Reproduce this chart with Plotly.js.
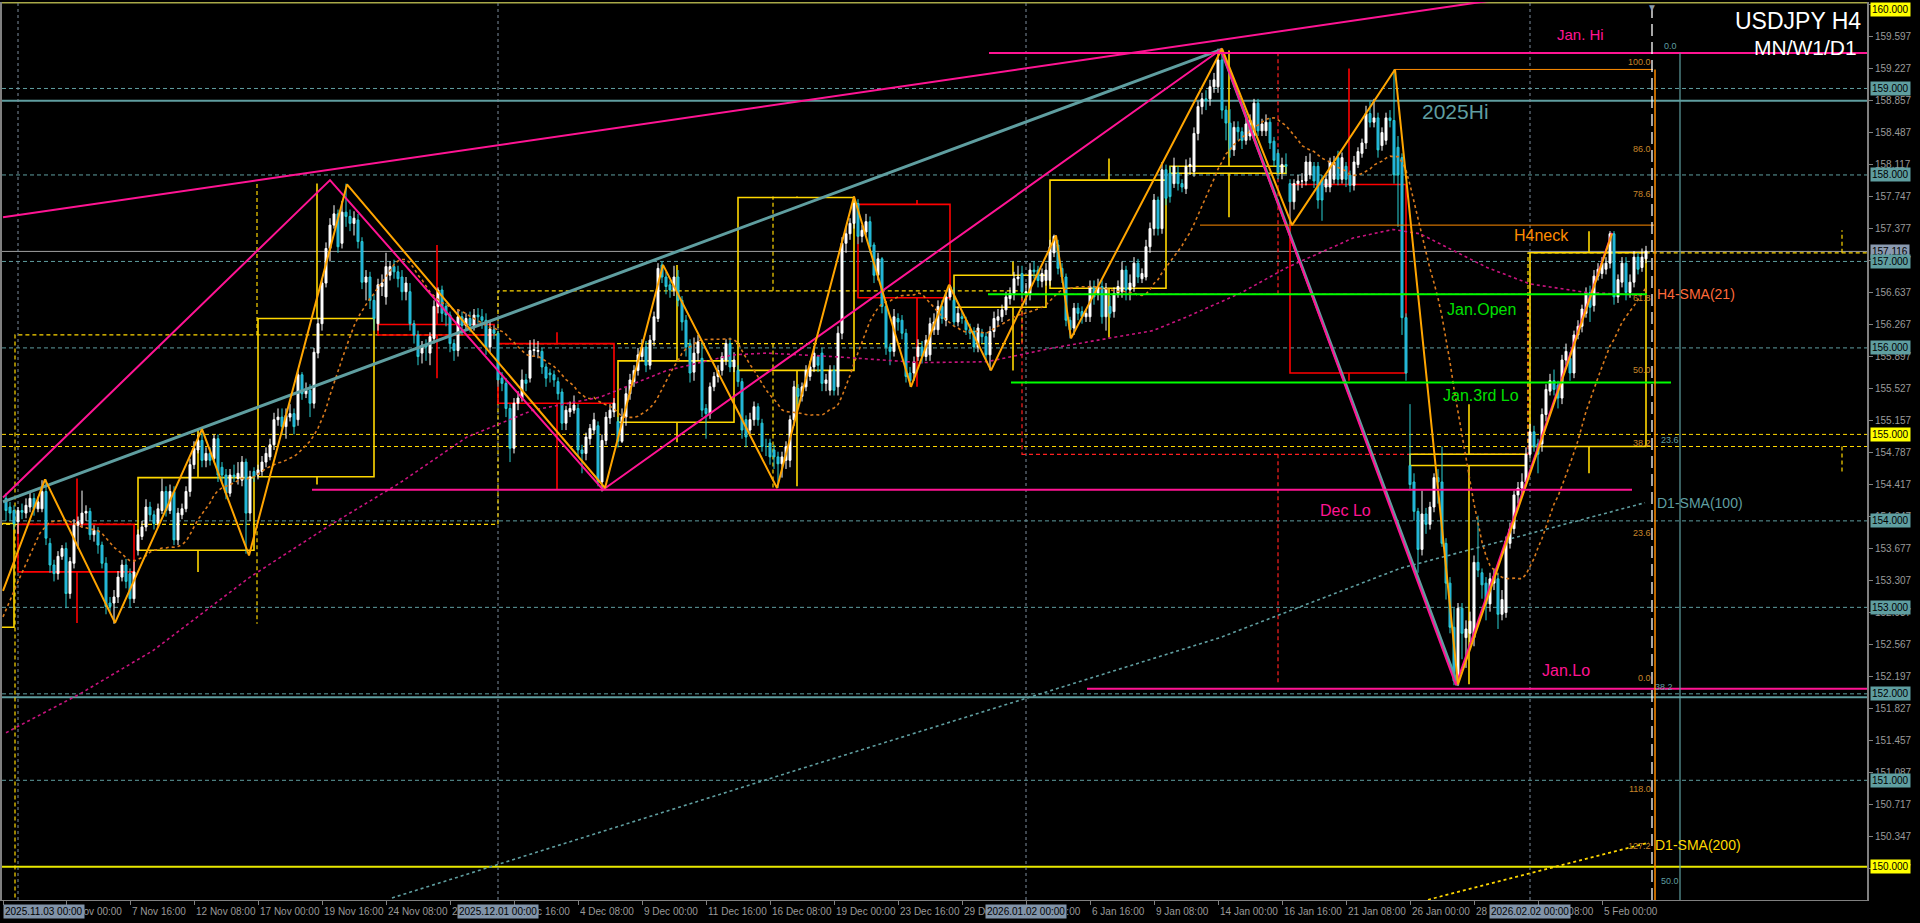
<!DOCTYPE html>
<html><head><meta charset="utf-8">
<script src="https://cdn.plot.ly/plotly-3.0.1.min.js"></script>
<style>html,body{margin:0;padding:0;background:#000;}#chart{width:1920px;height:923px;}</style>
</head><body><div id="chart"></div>
<script>
// ---------- H4 candles (bar index 0 = 2025.11.03 00:00) ----------
const firstBar = -3;
const open = [
154.26,154.16,154.12,153.99,154.12,154.09,154.16,154.26,154.14,154.14,
154.34,153.74,153.49,153.39,153.59,153.68,153.16,153.51,153.95,153.97,
154.09,154.11,153.84,153.89,153.72,153.51,153.05,153.05,153.12,153.35,
153.49,153.39,153.10,153.66,153.82,153.93,154.16,154.07,153.97,154.12,
154.34,154.12,154.34,153.78,154.07,154.14,154.34,154.65,154.82,154.93,
154.70,154.78,154.72,154.95,154.62,154.53,154.32,154.53,154.49,154.47,
154.68,154.09,154.57,154.53,154.57,154.68,154.74,154.88,155.17,155.20,
155.09,155.20,155.24,155.17,155.69,155.47,155.51,155.36,155.94,156.28,
156.75,157.15,157.42,157.55,157.21,157.57,157.52,157.44,157.48,157.23,
156.76,156.82,156.55,156.28,156.71,156.59,156.84,156.94,156.88,156.82,
156.65,156.65,156.28,156.15,155.94,156.03,155.94,156.11,156.48,156.67,
156.48,156.38,156.05,155.97,156.36,156.26,156.34,156.26,156.38,156.36,
156.32,156.01,156.21,156.17,155.65,155.59,155.30,154.84,155.36,155.42,
155.63,155.65,155.97,155.96,155.96,155.78,155.71,155.69,155.61,155.49,
155.13,155.26,155.28,155.30,154.82,154.78,154.95,155.05,155.10,154.45,
154.93,155.19,155.26,155.15,154.92,155.20,155.47,155.61,155.74,155.90,
156.01,155.80,156.09,156.34,156.96,156.82,156.73,156.67,156.82,156.55,
156.32,156.05,155.72,155.94,155.88,155.30,155.24,155.55,155.67,155.74,
155.86,156.05,155.78,155.74,155.61,155.17,155.05,155.17,155.32,155.13,
154.86,154.90,154.82,154.74,154.66,154.70,154.70,155.17,155.53,155.44,
155.55,155.67,155.78,155.90,155.94,155.59,155.51,155.74,155.55,156.17,
157.21,157.32,157.44,157.67,157.29,157.34,157.46,157.19,156.84,157.03,
156.48,156.01,155.96,156.34,156.32,156.17,155.71,155.71,155.90,156.01,
155.90,155.92,156.21,156.21,156.48,156.32,156.59,156.55,156.30,156.36,
156.32,156.21,156.19,156.01,156.17,156.13,155.92,156.19,156.32,156.36,
156.44,156.57,156.63,156.80,156.86,156.63,156.63,156.90,156.90,156.77,
156.78,156.78,157.10,157.19,156.92,156.82,156.32,156.23,156.46,156.42,
156.36,156.36,156.71,156.63,156.71,156.36,156.48,156.42,156.63,156.65,
156.90,156.67,156.71,156.98,156.80,156.82,157.17,157.38,157.71,157.38,
158.06,158.02,157.90,158.02,157.90,157.84,158.10,158.04,158.48,158.79,
158.88,158.88,159.02,159.02,159.33,158.75,158.60,158.29,158.55,158.50,
158.40,158.45,158.45,158.83,158.51,158.51,158.61,158.39,158.25,158.03,
158.12,157.90,157.69,157.90,157.93,157.93,158.00,158.10,158.10,157.95,
157.86,157.86,157.95,158.20,157.95,158.10,158.00,157.88,158.12,158.25,
158.37,158.71,158.61,158.66,158.34,158.40,158.66,158.63,158.32,158.20,
156.35,154.64,154.45,154.11,153.67,154.08,153.96,154.16,154.50,154.45,
153.74,153.28,152.77,152.15,152.99,152.65,152.70,152.65,153.52,153.40,
153.28,153.04,153.28,153.33,152.92,152.94,153.74,153.91,154.30,154.38,
154.45,154.77,155.03,154.89,154.89,155.23,155.50,155.62,155.57,155.42,
155.86,155.88,155.71,156.15,156.25,156.40,156.64,156.49,156.83,156.86,
156.91,156.98,157.32,156.59,156.76,156.98,156.64,156.76,157.05,156.93,157.03];
const high = [
154.32,154.22,154.18,154.16,154.20,154.26,154.33,154.32,154.28,154.47,
154.48,153.80,153.55,153.65,153.72,153.75,153.58,154.02,154.05,154.35,
154.18,154.15,153.95,153.93,153.76,153.58,153.12,153.20,153.42,153.55,
153.56,153.45,153.55,153.90,154.00,154.25,154.22,154.12,154.20,154.49,
154.40,154.42,154.40,154.15,154.20,154.40,154.72,154.92,155.00,155.06,
154.85,154.85,155.00,155.00,154.68,154.60,154.60,154.65,154.68,154.75,
154.72,154.58,154.62,154.65,154.75,154.85,154.95,155.25,155.30,155.30,
155.30,155.35,155.30,155.75,155.72,155.60,155.58,156.00,156.35,156.80,
157.22,157.50,157.65,157.60,157.70,157.90,157.60,157.58,157.55,157.28,
156.90,156.88,156.62,156.80,156.85,157.10,157.00,157.02,156.95,156.90,
156.82,156.75,156.32,156.20,156.08,156.10,156.18,156.55,156.70,156.72,
156.52,156.42,156.10,156.45,156.42,156.40,156.42,156.45,156.46,156.45,
156.40,156.30,156.26,156.20,155.72,155.65,155.35,155.42,155.50,155.75,
155.70,156.09,156.10,156.08,156.00,155.82,155.76,155.74,155.66,155.53,
155.33,155.38,155.45,155.35,154.88,155.02,155.12,155.25,155.15,155.00,
155.26,155.35,155.42,155.20,155.30,155.55,155.70,155.80,156.00,156.10,
156.08,156.15,156.42,156.98,157.00,156.88,156.78,156.95,156.90,156.60,
156.38,156.10,156.12,156.15,156.07,155.35,155.60,155.72,155.80,155.95,
156.10,156.12,155.95,155.80,155.65,155.22,155.25,155.38,155.36,155.18,
154.95,154.95,154.88,154.80,154.80,154.92,155.22,155.62,155.58,155.60,
155.80,155.85,156.02,155.92,156.00,155.70,155.80,155.80,156.25,157.28,
157.40,157.50,157.75,157.72,157.42,157.55,157.52,157.22,157.10,157.05,
156.52,156.05,156.45,156.40,156.38,156.22,155.78,155.90,156.10,156.08,
156.15,156.35,156.40,156.55,156.55,156.65,156.73,156.70,156.48,156.42,
156.36,156.28,156.24,156.28,156.22,156.18,156.25,156.42,156.45,156.50,
156.65,156.70,156.88,156.95,156.95,156.75,156.98,157.00,156.95,156.92,
156.98,157.25,157.31,157.25,156.98,156.86,156.36,156.52,156.52,156.48,
156.45,156.78,156.78,156.80,156.78,156.75,156.60,156.70,156.78,157.00,
156.95,156.85,157.05,157.03,156.92,157.25,157.45,157.78,157.75,158.15,
158.12,158.10,158.20,158.10,157.95,158.18,158.20,158.55,158.85,158.95,
158.98,159.10,159.18,159.46,159.40,158.80,158.76,158.62,158.62,158.55,
158.65,158.70,158.88,158.88,158.65,158.70,158.66,158.44,158.30,158.20,
158.25,157.95,157.95,158.00,158.02,158.22,158.25,158.15,158.15,158.00,
158.00,158.20,158.22,158.28,158.26,158.15,158.05,158.22,158.32,158.42,
158.80,158.85,158.88,158.72,158.55,158.72,158.75,159.22,158.45,158.25,
156.40,155.35,154.55,154.15,154.35,154.15,154.22,154.55,154.60,154.86,
153.80,153.35,152.99,153.05,153.05,152.85,152.95,153.60,154.06,153.45,
153.35,153.40,153.45,153.40,153.20,153.82,153.98,154.35,154.45,154.55,
154.85,155.12,155.10,154.95,155.30,155.58,155.70,155.75,155.62,155.92,
156.05,155.95,156.20,156.32,156.50,156.70,156.72,156.90,156.98,157.05,
157.05,157.35,157.35,156.85,157.05,157.05,156.85,157.12,157.10,157.15,157.18];
const low = [
154.00,154.00,153.90,153.85,154.02,154.03,154.10,154.06,154.10,154.10,
153.72,153.40,153.30,153.32,153.55,152.99,153.10,153.45,153.68,153.92,
154.00,153.78,153.76,153.62,153.45,152.92,152.95,152.81,153.05,153.30,
153.22,153.00,153.05,153.60,153.78,153.88,154.00,153.90,153.92,154.08,
154.05,154.08,153.72,153.72,154.02,154.10,154.28,154.60,154.78,154.62,
154.62,154.64,154.68,154.45,154.45,154.25,154.28,154.45,154.42,154.40,
153.62,154.00,154.45,154.48,154.52,154.62,154.70,154.82,155.10,155.00,
154.95,155.15,155.00,155.10,155.40,155.42,155.20,155.30,155.88,156.20,
156.70,157.00,157.38,157.10,157.15,157.40,157.35,157.30,157.15,156.68,
156.55,156.45,156.20,156.20,156.60,156.50,156.78,156.80,156.70,156.55,
156.55,156.20,156.05,155.80,155.82,155.85,155.80,156.05,156.40,156.30,
156.25,155.95,155.85,155.90,156.15,156.20,156.18,156.20,156.28,156.22,
155.92,155.95,156.10,155.55,155.50,155.20,154.68,154.78,155.28,155.38,
155.50,155.60,155.90,155.88,155.70,155.55,155.60,155.55,155.40,155.05,
155.05,155.20,155.24,154.75,154.55,154.70,154.88,155.00,154.40,154.34,
154.88,155.12,155.20,154.85,154.90,155.10,155.40,155.55,155.68,155.85,
155.72,155.75,156.02,156.30,156.75,156.62,156.58,156.60,156.48,156.20,
155.90,155.60,155.62,155.85,155.20,154.95,155.18,155.50,155.60,155.68,
155.80,155.72,155.72,155.55,154.95,154.85,154.98,155.10,155.10,154.80,
154.75,154.65,154.60,154.38,154.50,154.60,154.62,155.10,155.35,155.38,
155.50,155.62,155.72,155.72,155.50,155.50,155.45,155.45,155.45,156.10,
157.10,157.25,157.38,157.20,157.22,157.30,157.10,156.75,156.78,156.40,
155.92,155.80,155.90,156.20,156.10,155.60,155.55,155.62,155.85,155.82,
155.85,155.85,156.15,156.15,156.28,156.25,156.55,156.25,156.25,156.28,
156.15,156.10,155.95,155.95,156.05,155.85,155.74,156.12,156.25,156.30,
156.38,156.50,156.55,156.72,156.58,156.50,156.55,156.80,156.70,156.70,
156.72,156.72,157.05,156.85,156.75,156.25,156.11,156.15,156.32,156.28,
156.30,156.30,156.50,156.55,156.28,156.20,156.35,156.35,156.58,156.58,
156.55,156.55,156.65,156.75,156.75,156.78,157.10,157.30,157.30,157.32,
157.65,157.68,157.85,157.82,157.80,157.78,158.00,157.98,158.40,158.70,
158.75,158.80,158.95,158.95,158.65,158.40,158.20,158.22,158.40,158.30,
158.35,158.40,158.40,158.45,158.45,158.45,158.30,158.10,157.95,157.95,
158.02,157.43,157.60,157.82,157.85,157.88,157.95,157.85,157.61,157.47,
157.80,157.80,157.90,157.88,157.90,157.86,157.80,157.82,158.08,158.20,
158.30,158.55,158.55,158.20,158.28,158.35,158.55,157.90,157.40,156.15,
155.62,154.35,154.00,153.40,153.60,153.85,153.90,154.10,154.20,153.70,
153.09,152.70,152.10,152.09,152.40,152.30,152.60,152.55,153.35,153.10,
152.85,152.95,153.20,152.75,152.85,152.88,153.68,153.85,154.20,154.30,
154.40,154.72,154.80,154.55,154.80,155.15,155.45,155.45,155.30,155.35,
155.80,155.62,155.65,156.10,156.18,156.35,156.30,156.42,156.78,156.80,
156.85,156.92,156.50,156.52,156.70,156.55,156.58,156.70,156.85,156.88,156.98];
const close = [
154.12,154.09,153.97,154.12,154.10,154.18,154.26,154.14,154.22,154.34,
153.80,153.49,153.39,153.59,153.68,153.16,153.53,153.95,153.99,154.09,
154.11,153.84,153.89,153.72,153.51,153.01,153.01,153.12,153.35,153.49,
153.30,153.10,153.41,153.84,153.93,154.16,154.07,153.97,154.14,154.34,
154.12,154.34,153.78,154.09,154.14,154.34,154.65,154.84,154.93,154.70,
154.78,154.70,154.95,154.53,154.53,154.32,154.53,154.51,154.55,154.68,
154.09,154.51,154.51,154.59,154.68,154.78,154.88,155.17,155.20,155.09,
155.22,155.24,155.09,155.69,155.47,155.51,155.36,155.95,156.28,156.75,
157.15,157.42,157.55,157.17,157.57,157.52,157.44,157.50,157.23,156.76,
156.82,156.55,156.34,156.73,156.75,156.94,156.94,156.88,156.80,156.65,
156.75,156.28,156.15,155.90,156.03,156.01,156.13,156.48,156.67,156.40,
156.38,156.05,155.97,156.36,156.26,156.34,156.26,156.38,156.36,156.32,
156.01,156.22,156.17,155.63,155.59,155.30,154.84,155.36,155.42,155.63,
155.59,155.97,155.98,155.97,155.78,155.65,155.69,155.63,155.47,155.13,
155.28,155.30,155.34,154.82,154.78,154.97,155.07,155.17,154.45,154.93,
155.20,155.28,155.36,154.92,155.20,155.47,155.63,155.74,155.92,156.01,
155.80,156.09,156.36,156.92,156.82,156.71,156.67,156.82,156.55,156.30,
156.01,155.71,155.94,156.07,155.28,155.24,155.55,155.67,155.74,155.90,
156.05,155.78,155.86,155.61,155.05,154.97,155.17,155.32,155.17,154.86,
154.86,154.74,154.74,154.66,154.74,154.86,155.17,155.55,155.44,155.55,
155.74,155.78,155.94,155.80,155.59,155.63,155.74,155.51,156.17,157.21,
157.32,157.44,157.67,157.29,157.36,157.46,157.17,156.84,157.03,156.48,
156.01,155.96,156.36,156.30,156.17,155.67,155.62,155.84,156.01,155.90,
156.09,156.28,156.30,156.48,156.34,156.59,156.71,156.30,156.40,156.34,
156.21,156.17,156.01,156.23,156.13,155.92,156.19,156.34,156.36,156.44,
156.59,156.63,156.80,156.82,156.65,156.65,156.90,156.88,156.78,156.86,
156.90,157.17,157.29,156.92,156.82,156.32,156.21,156.46,156.40,156.36,
156.40,156.71,156.59,156.71,156.36,156.69,156.40,156.63,156.71,156.90,
156.67,156.75,156.98,156.82,156.86,157.17,157.38,157.71,157.38,158.06,
157.73,157.75,158.10,157.90,157.86,158.10,158.12,158.48,158.79,158.88,
158.86,159.02,159.10,159.33,158.75,158.60,158.29,158.55,158.50,158.40,
158.59,158.63,158.83,158.51,158.59,158.61,158.37,158.17,158.03,158.12,
158.10,157.69,157.90,157.93,157.93,158.15,158.15,157.93,157.71,157.71,
157.95,158.15,158.15,157.95,158.20,157.95,157.88,158.15,158.27,158.37,
158.71,158.61,158.66,158.29,158.49,158.66,158.63,158.00,158.00,156.35,
155.71,154.42,154.11,153.67,154.08,153.96,154.16,154.50,154.45,153.74,
153.28,152.77,152.15,152.99,152.70,152.75,152.84,153.52,153.43,153.26,
153.04,153.33,153.36,152.92,153.09,153.77,153.91,154.30,154.38,154.45,
154.77,155.03,154.86,154.77,155.23,155.52,155.62,155.52,155.42,155.86,
155.96,155.71,156.15,156.25,156.45,156.64,156.47,156.83,156.91,156.98,
156.98,157.32,156.59,156.79,156.98,156.64,156.76,157.05,156.91,157.05,157.12];

// ---------- axis labels ----------
const priceTicks = [159.967,159.597,159.227,158.857,158.487,158.117,157.747,157.377,157.007,156.637,156.267,155.897,155.527,155.157,154.787,154.417,154.047,153.677,153.307,152.937,152.567,152.197,151.827,151.457,151.087,150.717,150.347,149.977];
const timeTickBars = [12,28,44,60,76,92,108,124,140,156,172,188,204,220,236,252,268,284,300,316,332,348,364,380,396];
const timeTickText = ['5 Nov 00:00','7 Nov 16:00','12 Nov 08:00','17 Nov 00:00','19 Nov 16:00','24 Nov 08:00','27 Nov 00:00','1 Dec 16:00','4 Dec 08:00','9 Dec 00:00','11 Dec 16:00','16 Dec 08:00','19 Dec 00:00','23 Dec 16:00','29 Dec 08:00','2 Jan 00:00','6 Jan 16:00','9 Jan 08:00','14 Jan 00:00','16 Jan 16:00','21 Jan 08:00','26 Jan 00:00','28 Jan 16:00','2 Feb 08:00','5 Feb 00:00'];
const monthBars = [0,120,252,378];
const monthText = ['2025.11.03 00:00','2025.12.01 00:00','2026.01.02 00:00','2026.02.02 00:00'];
const levelPrices = [160,159,158,157.116,157,156,155,154,153,152,151,150];
const levelKinds  = ['y','t','t','g','t','t','y','t','t','t','t','y'];

// ---------- drawn objects (bar index, price) ----------
const pinkZigBars = [-3.75,78,146.25,300.75,359.5,398.5];
const pinkZigVals = [154.27,157.94,154.36,159.45,152.10,157.33];
const orangeZigBars = [-3.75,6.75,24.25,46,57.75,82.25,146.75,161.25,189.75,209,223.25,232.75,243.25,259.5,263.25,301,318.5,344.25,360,398.5];
const orangeZigVals = [153.19,154.48,152.82,155.06,153.60,157.89,154.38,156.96,154.38,157.75,155.55,156.73,155.74,157.30,156.11,159.46,157.42,159.22,152.11,157.32];
const tealTrendBars = [-3.75,300.75,359.5];
const tealTrendVals = [154.22,159.45,152.10];
const pinkLongBars = [-3.75,368.75];
const pinkLongVals = [157.51,160.02];
// moving averages
const smaHeadBars = [-3.75,0.5,5.5,8,12.25,16];
const smaHeadVals = [152.89,153.35,153.86,153.99,154.01,153.93];
const pinkMaBars = [-3,15.5,33.75,58,78,95.5,112.25,128.75,145.5,162.25,178.75,187.25,203.75,225.5,242.25,258.75,283.75,292.25,305.5,317.25,333.75,343.75,350.5,367.25,378,392.25,406.25];
const pinkMaVals = [151.55,152.00,152.50,153.35,153.95,154.44,154.97,155.28,155.43,155.74,155.92,155.94,155.90,155.83,155.84,156.00,156.20,156.36,156.63,156.93,157.27,157.37,157.32,156.93,156.74,156.64,156.61];
const d1Sma100Bars = [93.5,195.5,300.5,345.5,406.75];
const d1Sma100Vals = [149.64,151.13,152.65,153.45,154.21];
const d1Sma200Bars = [352.5,407.75];
const d1Sma200Vals = [149.62,150.28];

// weekly candles: start, end, wick bar, open, close, high, low
const wkStart = [-25,0,30,60,90,120,150,180,210,234,258,288,318,348,378];
const wkEnd   = [-1,29,59,89,119,149,179,209,233,257,287,317,347,377,407];
const wkWick  = [-13,14.75,45,74.75,104.75,134.75,164.75,194.75,224.75,248.75,272.75,302.75,332.75,362.75,392.75];
const wkOpen  = [152.77,153.96,153.66,154.51,156.27,156.05,155.14,155.74,157.66,156.47,156.69,158.02,157.89,154.64,154.86];
const wkClose = [153.97,153.41,154.50,156.34,156.15,155.36,155.85,157.74,156.58,156.84,157.94,158.10,155.71,154.77,157.10];
const wkHigh  = [153.97,154.49,155.06,157.90,157.19,156.18,156.96,157.75,157.71,157.00,158.19,159.44,159.23,155.35,157.35];
const wkLow   = [152.77,152.82,153.41,154.42,155.65,154.36,154.91,154.40,155.55,155.74,156.12,157.51,155.62,152.11,154.55];
// monthly candles (dashed)
const mnStart = [-40,-0.75,120,251,377.5];
const mnEnd   = [-0.75,120,251,377.5,470];
const mnWick  = [-20,59.75,188.75,315,456];
const mnOpen  = [147.90,153.96,156.05,156.62,154.86];
const mnClose = [153.96,156.15,156.66,154.77,157.10];
const mnHigh  = [153.96,157.90,157.75,159.45,157.36];
const mnLow   = [147.90,152.81,154.36,152.10,154.55];

const fibText  = ['100.0','86.0','78.6','61.8','50.0','38.2','23.6','0.0','118.0','127.2'];
const fibPrice = [159.22,158.22,157.70,156.50,155.66,154.82,153.78,152.10,150.82,150.16];

// ---------- build ----------
const N = close.length;
const xs = [];
for (let k = 0; k < N; k++) xs.push(firstBar + k);

// H4 SMA(21) from the closes, head
const smaX = smaHeadBars.slice(), smaY = smaHeadVals.slice();
for (let k = 20; k < N; k++) {
  let s = 0; for (let j = k - 20; j <= k; j++) s += close[j];
  smaX.push(xs[k]); smaY.push(s / 21);
}

const FONT = 'Liberation Sans, Arial, sans-serif';
const PINK = '#ff1493', TEAL = '#5f9ea0', ORANGE = '#ffa500', GOLD = '#ffd700', GREEN = '#00ff00';

const shapes = [];
function seg(x0,y0,x1,y1,color,width,dash,layer){shapes.push({type:'line',xref:'x',yref:'y',x0:x0,y0:y0,x1:x1,y1:y1,line:{color:color,width:width,dash:dash||'solid'},layer:layer||'above'});}
function hfull(y,color,width,dash){shapes.push({type:'line',xref:'paper',yref:'y',x0:0,x1:1,y0:y,y1:y,line:{color:color,width:width,dash:dash||'solid'},layer:'below'});}
function vfull(x,color,width,dash,layer){shapes.push({type:'line',xref:'x',yref:'paper',x0:x,x1:x,y0:0,y1:1,line:{color:color,width:width,dash:dash||'solid'},layer:layer||'below'});}
function box(x0,x1,o,c,color,width,dash){shapes.push({type:'rect',xref:'x',yref:'y',x0:x0,x1:x1,y0:Math.min(o,c),y1:Math.max(o,c),line:{color:color,width:width,dash:dash||'solid'},fillcolor:'rgba(0,0,0,0)',layer:'below'});}

// levels
[159,158,157,156,154,153,152,151].forEach(p => hfull(p, TEAL, 1, '4px,3px'));
hfull(155, GOLD, 1, '4px,3px');
hfull(150, '#e8e800', 2);
hfull(160, '#a8a848', 3);
hfull(158.857, TEAL, 2);
hfull(151.96, TEAL, 2);
hfull(157.116, '#a0a0a0', 1);
hfull(154.86, GOLD, 1, '4px,3px');
// month separators
monthBars.forEach(b => vfull(b, '#7c8c9c', 1, '3px,3px'));

// monthly dashed candles
for (let k = 0; k < mnStart.length; k++) {
  const col = mnClose[k] >= mnOpen[k] ? GOLD : '#ff2020';
  box(mnStart[k], mnEnd[k], mnOpen[k], mnClose[k], col, 1.2, '4px,3px');
  const top = Math.max(mnOpen[k], mnClose[k]), bot = Math.min(mnOpen[k], mnClose[k]);
  if (mnHigh[k] > top) seg(mnWick[k], top, mnWick[k], mnHigh[k], col, 1.2, '4px,3px', 'below');
  if (mnLow[k] < bot) seg(mnWick[k], bot, mnWick[k], mnLow[k], col, 1.2, '4px,3px', 'below');
}
// weekly candles
for (let k = 0; k < wkStart.length; k++) {
  const col = wkClose[k] >= wkOpen[k] ? GOLD : '#ff0000';
  box(wkStart[k], wkEnd[k], wkOpen[k], wkClose[k], col, 1.6);
  const top = Math.max(wkOpen[k], wkClose[k]), bot = Math.min(wkOpen[k], wkClose[k]);
  if (wkHigh[k] > top) seg(wkWick[k], top, wkWick[k], wkHigh[k], col, 1.6, 'solid', 'below');
  if (wkLow[k] < bot) seg(wkWick[k], bot, wkWick[k], wkLow[k], col, 1.6, 'solid', 'below');
}

// named horizontal levels
seg(242.75,159.41,470,159.41,PINK,2);          // Jan. Hi
seg(73.5,154.36,403.5,154.36,PINK,2);          // Dec Lo
seg(267.25,152.06,470,152.06,PINK,2);          // Jan.Lo
seg(242.5,156.62,407.25,156.62,GREEN,2);       // Jan.Open
seg(248.25,155.60,413.25,155.60,GREEN,2);      // Jan.3rd Lo
seg(295.5,157.42,409,157.42,'#ff8c00',1);      // H4neck
seg(344.25,159.22,408.75,159.22,'#ff8c00',1);  // fib 100
seg(409.25,159.22,409.25,149.5,'#ff8c00',1.5); // fib vertical
seg(415.5,159.41,415.5,149.5,TEAL,1.2);        // teal vertical
vfull(408.5,'#ffffff',1.3,'12px,6px','above'); // shift line

const traces = [];
traces.push({type:'candlestick', x:xs, open:open, high:high, low:low, close:close,
  increasing:{line:{color:'#ffffff',width:1},fillcolor:'#ffffff'},
  decreasing:{line:{color:'#2ad0d4',width:1},fillcolor:'#1e98e6'},
  whiskerwidth:0, hoverinfo:'skip', showlegend:false});
function line(x,y,color,width,dash){traces.push({type:'scatter',mode:'lines',x:x,y:y,line:{color:color,width:width,dash:dash||'solid'},hoverinfo:'skip',showlegend:false});}
line(smaX, smaY, '#d97a1c', 1.6, 'dot');
line(pinkMaBars, pinkMaVals, '#c8147e', 1.6, 'dot');
line(d1Sma100Bars, d1Sma100Vals, TEAL, 1.6, 'dot');
line(d1Sma200Bars, d1Sma200Vals, GOLD, 1.6, 'dot');
line(pinkLongBars, pinkLongVals, PINK, 2);
line(tealTrendBars.map((b,i)=> i===2 ? b+0.5 : b), tealTrendVals, TEAL, 3);
line(pinkZigBars, pinkZigVals, PINK, 2);
line(orangeZigBars, orangeZigVals, ORANGE, 2);

// ---------- annotations ----------
const ann = [];
function txt(x,y,t,color,size,xa,ya,extra){ann.push(Object.assign({xref:'x',yref:'y',x:x,y:y,text:t,showarrow:false,font:{family:FONT,size:size,color:color},xanchor:xa||'center',yanchor:ya||'middle'},extra||{}));}
txt(390.5,159.63,'Jan. Hi',PINK,15);
txt(359.25,158.73,'2025Hi',TEAL,21);
txt(380.75,157.30,'H4neck','#ff8c00',16);
txt(365.75,156.44,'Jan.Open','#00e000',16);
txt(365.75,155.45,'Jan.3rd Lo','#00e000',16);
txt(331.75,154.12,'Dec Lo',PINK,16);
txt(387,152.27,'Jan.Lo',PINK,16);
txt(409.25,156.62,'H4-SMA(21)','#ff6a3a',14,'left');
txt(409.25,154.21,'D1-SMA(100)',TEAL,14,'left');
txt(408.75,150.25,'D1-SMA(200)',GOLD,14,'left');
for (let k = 0; k < fibText.length; k++) txt(408.75,fibPrice[k],fibText[k],'#c8862a',9,'right','bottom');
txt(413,159.41,'0.0',TEAL,9,'center','bottom');
txt(413,154.86,'23.6',TEAL,9,'center','bottom');
txt(411.5,152.0,'38.2',TEAL,9,'center','bottom');
txt(413,149.75,'50.0',TEAL,9,'center','bottom');
ann.push({xref:'x',yref:'paper',x:408.5,y:1,text:'▼',showarrow:false,font:{family:FONT,size:10,color:'#8a9aaa'},yanchor:'top',yshift:2});
ann.push({xref:'paper',yref:'paper',x:1,y:1,xanchor:'right',yanchor:'top',xshift:-4,yshift:-4,text:'USDJPY H4',showarrow:false,font:{family:FONT,size:23,color:'#ffffff'}});
ann.push({xref:'paper',yref:'paper',x:1,y:1,xanchor:'right',yanchor:'top',xshift:-8,yshift:-32,text:'MN/W1/D1',showarrow:false,font:{family:FONT,size:21,color:'#ffffff'}});
// time labels
for (let k = 0; k < timeTickBars.length; k++) ann.push({xref:'x',yref:'paper',x:timeTickBars[k],y:0,xanchor:'left',yanchor:'top',yshift:-4,text:timeTickText[k],showarrow:false,font:{family:FONT,size:10,color:'#9a9a9a'}});
for (let k = 0; k < monthBars.length; k++) {
  const a = {xref:'x',yref:'paper',x:monthBars[k],y:0,xanchor:k===0?'left':'center',yanchor:'top',yshift:-4,text:monthText[k],showarrow:false,font:{family:FONT,size:10,color:'#000000'},bgcolor:'#8193a8',borderpad:1};
  if (k===0) { a.x = -3.75; }
  ann.push(a);
}
// price level labels on the axis
const lvlBg = {t:'#5f9ea0', y:'#ffff00', g:'#8a9ab0'};
for (let k = 0; k < levelPrices.length; k++) {
  const p = levelPrices[k];
  ann.push({xref:'paper',yref:'y',x:1,y:p,xanchor:'left',yanchor:k===0?'top':'middle',xshift:3,text:p.toFixed(3),showarrow:false,font:{family:FONT,size:10,color:'#000000'},bgcolor:lvlBg[levelKinds[k]],borderpad:1});
}

const layout = {
  width:1920, height:923, paper_bgcolor:'#000000', plot_bgcolor:'#000000',
  margin:{l:2,r:53,t:2,b:23}, showlegend:false, hovermode:false, dragmode:false,
  xaxis:{type:'linear', range:[-4,462.25], showgrid:false, zeroline:false, showticklabels:false,
    tickvals:[-3.75].concat(timeTickBars), ticks:'outside', ticklen:4, tickcolor:'#808080',
    showline:true, linecolor:'#808080', linewidth:1, rangeslider:{visible:false}, fixedrange:true},
  yaxis:{range:[149.616,160.0], side:'right', showgrid:false, zeroline:false,
    tickvals:priceTicks, ticktext:priceTicks.map(v=>v.toFixed(3)), ticks:'outside', ticklen:4, tickcolor:'#808080',
    tickfont:{family:FONT,size:10,color:'#9a9a9a'}, showline:true, mirror:true, linecolor:'#808080', linewidth:2, fixedrange:true},
  shapes:shapes, annotations:ann
};
Plotly.newPlot('chart', traces, layout, {displayModeBar:false, staticPlot:true});
</script>
</body></html>
